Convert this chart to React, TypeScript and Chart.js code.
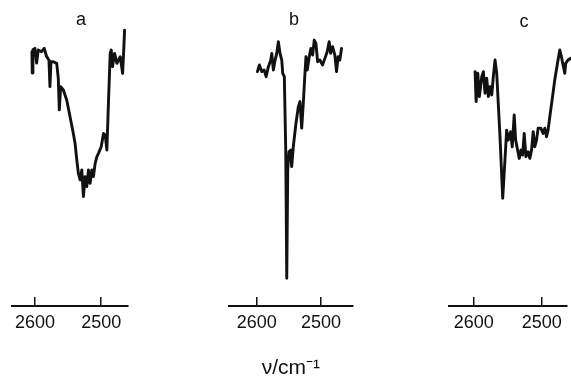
import React, { useEffect, useRef } from "react";
import { Chart, registerables } from "chart.js";

Chart.register(...registerables);

// ---- data ----
const tickValues = [2600, 2500];
const axisTitle = "ν/cm⁻¹";
const panelLabels = ["a", "b", "c"];

const wavenumberA = [2604.5, 2604, 2603, 2600, 2597.4, 2595, 2589.8, 2585.9, 2582.3, 2578.8, 2577.3, 2575.8, 2572.3, 2567.1, 2564.7, 2563.2, 2561.1, 2557.1, 2552, 2547, 2542, 2539.4, 2536.8, 2534.4, 2531.8, 2529.2, 2526.8, 2524.2, 2521.7, 2519.2, 2516.7, 2514.1, 2511.7, 2509.1, 2506.5, 2504.1, 2500, 2496.5, 2493.9, 2491.4, 2488.9, 2486.4, 2484.8, 2482.9, 2479.8, 2476.2, 2471.2, 2467.7, 2466.2, 2464.7];
const transmA = [91.8, 84.1, 92.5, 93.0, 87.7, 92.4, 91.8, 93.0, 90.0, 88.8, 79.2, 88.2, 88.2, 87.6, 82.2, 70.8, 79.2, 78.0, 74.4, 68.3, 62.3, 58.7, 52.7, 47.9, 45.5, 49.1, 39.5, 46.7, 43.1, 49.1, 44.3, 49.1, 46.7, 51.5, 53.9, 55.1, 57.5, 62.3, 61.7, 56.3, 74.4, 91.2, 92.4, 86.4, 91.2, 87.6, 90.0, 84.0, 91.2, 99.6];

const wavenumberB = [2599.1, 2596, 2592.2, 2588.6, 2585.5, 2582, 2578.2, 2576.7, 2574.2, 2571.5, 2568.9, 2566.4, 2563.8, 2561.1, 2559.6, 2557.1, 2554.9, 2553.3, 2551.8, 2549.8, 2547.1, 2545.6, 2543.1, 2538.9, 2535.3, 2532.7, 2530, 2527.5, 2524.9, 2523.3, 2521.3, 2518.2, 2515.6, 2512.9, 2510.4, 2507.8, 2505.1, 2501.6, 2497.4, 2493.8, 2490.2, 2487.1, 2484.9, 2481.8, 2478.2, 2475.6, 2473.1, 2470.5, 2467.8];
const transmB = [84.6, 87.0, 84.6, 85.2, 82.8, 86.4, 88.8, 91.2, 85.2, 88.8, 91.2, 95.4, 91.2, 88.8, 84.0, 82.8, 56.3, 10.0, 49.1, 55.7, 56.3, 50.3, 57.5, 66.0, 71.9, 73.8, 64.2, 73.2, 84.0, 90.0, 85.2, 90.0, 93.0, 90.6, 96.0, 94.8, 88.2, 88.8, 87.0, 89.4, 91.8, 95.4, 91.2, 93.6, 90.6, 84.6, 90.0, 88.8, 93.0];

const wavenumberC = [2598.1, 2596.6, 2594.1, 2591.8, 2588.3, 2585.9, 2583.5, 2581, 2578.6, 2576.1, 2573.6, 2571.3, 2568.8, 2566.3, 2561.5, 2557.5, 2554.2, 2551.7, 2549.3, 2545.8, 2543.5, 2540.6, 2538.5, 2535.6, 2533.2, 2530.7, 2528.3, 2525.9, 2523.4, 2520.1, 2517.6, 2515.1, 2512.7, 2510.3, 2507.8, 2505.4, 2501.5, 2498.1, 2495.6, 2493.1, 2490.8, 2488.3, 2484.9, 2481, 2477, 2473.6, 2471.2, 2468.8, 2466.3, 2464.9, 2461.5, 2457.5];
const transmC = [84.6, 73.8, 84.0, 75.6, 82.8, 84.6, 76.8, 82.2, 75.6, 79.2, 76.2, 82.8, 88.8, 84.0, 61.1, 38.9, 52.7, 63.5, 59.9, 62.9, 57.5, 69.0, 59.9, 56.3, 53.3, 56.3, 54.5, 62.3, 53.9, 55.7, 53.3, 56.3, 62.9, 57.5, 59.9, 64.2, 64.2, 62.3, 64.2, 61.1, 63.5, 68.3, 74.4, 81.6, 87.6, 92.4, 90.0, 87.0, 84.0, 87.6, 88.8, 89.4];

// axis ranges (wavenumber shown at left / right end of each axis line)
const axisLeftA = 2635, axisRightA = 2460;
const axisLeftB = 2643, axisRightB = 2451;
const axisLeftC = 2636, axisRightC = 2463;

// ---- layout / style ----
const W = 571, H = 381;
const INK = "#111";
const FONT = "'Liberation Sans', Arial, sans-serif";

type Panel = {
  wn: number[]; t: number[]; left: number; right: number;
  padL: number; padR: number; withTitle: boolean;
  label: string; labelX: number; labelY: number;
};

const panels: Panel[] = [
  { wn: wavenumberA, t: transmA, left: axisLeftA, right: axisRightA, padL: 11.7, padR: W - 127.7, withTitle: false, label: panelLabels[0], labelX: 81, labelY: 19 },
  { wn: wavenumberB, t: transmB, left: axisLeftB, right: axisRightB, padL: 229.3, padR: W - 352.3, withTitle: true, label: panelLabels[1], labelX: 294, labelY: 19 },
  { wn: wavenumberC, t: transmC, left: axisLeftC, right: axisRightC, padL: 449.3, padR: W - 567, withTitle: false, label: panelLabels[2], labelX: 524, labelY: 21 },
];

function PanelChart({ p }: { p: Panel }) {
  const ref = useRef<HTMLCanvasElement | null>(null);
  useEffect(() => {
    if (!ref.current) return;
    const labelLH = 52;
    const titleSize = 21;
    const titleLH = titleSize * 1.2;
    const axisH = -9 + labelLH; // tick (inward) + labels
    let bottomPad = H - 306 - axisH;
    let titlePadTop = 0;
    let titlePadBottom = 0;
    if (p.withTitle) {
      bottomPad = 0;
      titlePadBottom = 0;
      titlePadTop = (H - 306) - axisH - titleLH - titlePadBottom;
    }
    const chart = new Chart(ref.current, {
      type: "line",
      data: {
        datasets: [
          {
            data: p.wn.map((x, i) => ({ x, y: p.t[i] })),
            borderColor: INK,
            borderWidth: 2.9,
            pointRadius: 0,
            tension: 0,
            fill: false,
            clip: false as any,
            borderJoinStyle: "round",
            borderCapStyle: "round",
          },
        ],
      },
      options: {
        animation: false,
        responsive: false,
        devicePixelRatio: 1,
        events: [],
        layout: { padding: { left: p.padL, right: p.padR, top: 29, bottom: bottomPad } },
        plugins: { legend: { display: false }, tooltip: { enabled: false }, title: { display: false } },
        scales: {
          x: {
            type: "linear",
            reverse: true,
            min: p.right,
            max: p.left,
            afterBuildTicks: (s: any) => {
              s.ticks = tickValues.map((v) => ({ value: v }));
            },
            grid: { drawOnChartArea: false, drawTicks: true, tickLength: -9, color: INK, lineWidth: 1.5 },
            border: { display: true, color: INK, width: 2 },
            ticks: {
              padding: 0,
              color: INK,
              autoSkip: false,
              maxRotation: 0,
              font: { family: FONT, size: 18, lineHeight: labelLH + "px" },
              callback: (v: any) => String(v),
            },
            title: {
              display: p.withTitle,
              text: axisTitle,
              color: INK,
              font: { family: FONT, size: titleSize, lineHeight: 1.2 },
              padding: { top: titlePadTop, bottom: titlePadBottom },
            },
          },
          y: { display: false, min: 0, max: 100 },
        },
      },
    } as any);
    return () => chart.destroy();
  }, [p]);
  return (
    <canvas
      ref={ref}
      width={W}
      height={H}
      style={{ position: "absolute", left: 0, top: 0, width: W, height: H }}
    />
  );
}

export default function App() {
  return (
    <div style={{ position: "fixed", left: 0, top: 0, width: W, height: H, background: "#fff", overflow: "hidden" }}>
      {panels.map((p, i) => (
        <PanelChart key={i} p={p} />
      ))}
      {panels.map((p, i) => (
        <span
          key={"l" + i}
          style={{
            position: "absolute",
            left: p.labelX,
            top: p.labelY,
            transform: "translate(-50%, -50%)",
            fontFamily: FONT,
            fontSize: 18,
            lineHeight: 1,
            color: INK,
          }}
        >
          {p.label}
        </span>
      ))}
    </div>
  );
}
